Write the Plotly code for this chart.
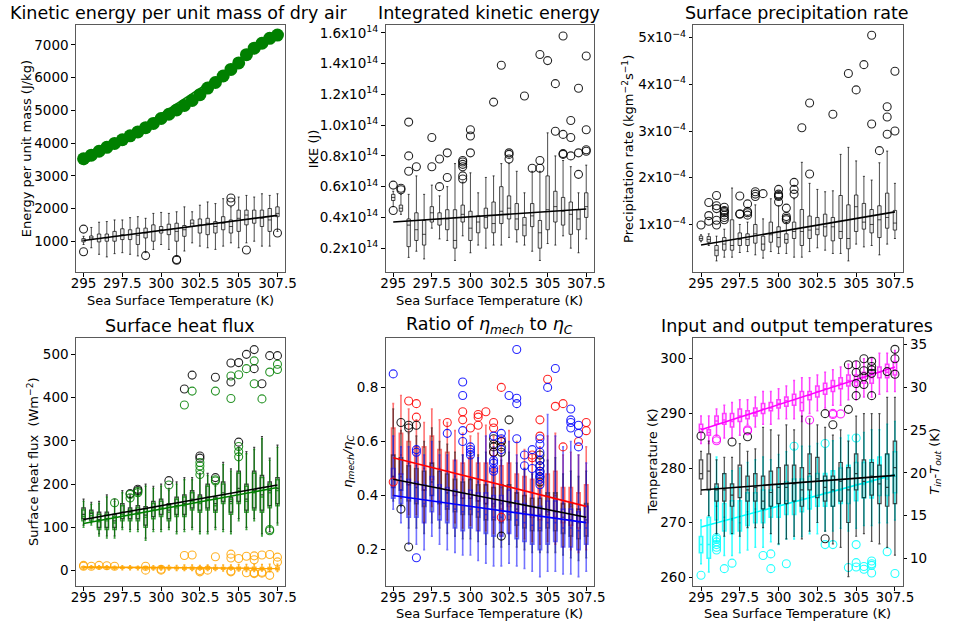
import plotly.graph_objects as go

W, H = 954, 627
FONT = "DejaVu Sans"

# ---------------- data ----------------
sst = [295.0, 295.5, 296.0, 296.5, 297.0, 297.5, 298.0, 298.5, 299.0, 299.5,
       300.0, 300.5, 301.0, 301.5, 302.0, 302.5, 303.0, 303.5, 304.0, 304.5,
       305.0, 305.5, 306.0, 306.5, 307.0, 307.5]
x_ticks = [295, 297.5, 300, 302.5, 305, 307.5]
x_ticktext = ["295", "297.5", "300", "302.5", "305", "307.5"]

# Panel 1: kinetic energy per unit mass (J/kg); boxes as (lo, q1, med, q3, hi)
ke_theory = [3520, 3630, 3750, 3870, 3990, 4100, 4220, 4340, 4470, 4600, 4750, 4880, 5010,
             5150, 5300, 5480, 5680, 5850, 6050, 6250, 6450, 6700, 6900, 7050, 7200, 7300]
ke_theory_fit = [3330, 7230]
ke_box = [(900, 980, 1030, 1080, 1150), (800, 1050, 1100, 1160, 1420), (600, 980, 1080, 1220, 1580),
          (520, 1000, 1100, 1220, 1600), (620, 1000, 1150, 1300, 1650), (650, 1050, 1200, 1380, 1650),
          (600, 1050, 1200, 1350, 1720), (550, 900, 1180, 1400, 1750), (650, 1100, 1250, 1400, 1700),
          (750, 1000, 1300, 1500, 1850), (900, 1250, 1350, 1450, 1880), (750, 1200, 1350, 1520, 1850),
          (550, 1000, 1300, 1550, 1900), (700, 1150, 1350, 1480, 2050), (950, 1450, 1550, 1650, 1900),
          (850, 1250, 1500, 1680, 2100), (800, 1200, 1550, 1700, 2200), (750, 1250, 1450, 1600, 2150),
          (850, 1350, 1550, 1750, 2300), (950, 1250, 1450, 1650, 2050), (800, 1300, 1700, 1950, 2350),
          (950, 1500, 1800, 1950, 2400), (1000, 1550, 1700, 1950, 2350), (850, 1450, 1700, 1950, 2450),
          (850, 1300, 1650, 2000, 2400), (1300, 1750, 1850, 2050, 2450)]
ke_out = [(295, 1370), (295, 680), (299, 560), (301, 420), (301, 440), (304.5, 2200), (304.5, 2320),
          (305.5, 730), (307.5, 1250)]
ke_fit = [1020, 1790]

# Panel 2: integrated kinetic energy (units of 1e14 J)
ike_box = [(0.47, 0.51, 0.53, 0.55, 0.57), (0.42, 0.44, 0.46, 0.48, 0.55), (0.14, 0.21, 0.35, 0.39, 0.55),
           (0.18, 0.25, 0.32, 0.43, 0.67), (0.13, 0.22, 0.29, 0.38, 0.55), (0.33, 0.37, 0.43, 0.47, 0.61),
           (0.26, 0.35, 0.39, 0.43, 0.54), (0.25, 0.32, 0.39, 0.45, 0.60), (0.12, 0.20, 0.25, 0.45, 0.75),
           (0.28, 0.37, 0.42, 0.48, 0.63), (0.17, 0.25, 0.33, 0.44, 0.69), (0.22, 0.30, 0.37, 0.41, 0.56),
           (0.20, 0.33, 0.40, 0.46, 0.66), (0.22, 0.30, 0.36, 0.50, 0.67), (0.22, 0.36, 0.44, 0.60, 0.75),
           (0.27, 0.39, 0.46, 0.54, 0.75), (0.24, 0.32, 0.39, 0.49, 0.70), (0.22, 0.28, 0.35, 0.40, 0.56),
           (0.18, 0.34, 0.41, 0.49, 0.70), (0.12, 0.20, 0.30, 0.38, 0.70), (0.23, 0.32, 0.45, 0.67, 0.95),
           (0.22, 0.37, 0.47, 0.57, 0.80), (0.28, 0.35, 0.44, 0.53, 0.77), (0.20, 0.29, 0.42, 0.50, 0.73),
           (0.17, 0.32, 0.39, 0.45, 0.56), (0.26, 0.40, 0.47, 0.56, 0.74)]
ike_out = [(295, 0.61), (295, 0.445), (295.5, 0.59), (295.5, 0.58), (296, 0.70), (296, 0.80), (296, 1.02),
           (296.5, 0.73), (297.5, 0.73), (297.5, 0.92), (298, 0.60), (298, 0.78), (298.5, 0.66), (298.5, 0.82),
           (299.5, 0.65), (299.5, 0.67), (299.5, 0.73), (299.5, 0.745), (299.5, 0.76), (299.5, 0.77),
           (300, 0.82), (300, 0.93), (300, 0.97), (301.5, 1.15), (302, 1.39), (302.5, 0.78), (302.5, 0.81),
           (302.5, 0.82), (303.5, 1.19), (304, 0.72), (304.5, 0.72), (304.5, 0.77), (304.5, 1.46),
           (305, 1.42), (305.5, 0.96), (305.5, 1.27), (306, 0.81), (306, 0.815), (306, 0.94), (306, 1.58),
           (306.5, 0.80), (306.5, 0.92), (306.5, 1.03), (307, 0.68), (307, 0.82), (307, 1.24),
           (307.5, 0.83), (307.5, 0.84), (307.5, 0.97), (307.5, 1.45)]
ike_fit = [0.37, 0.455]
ike_ticks = [0.2, 0.4, 0.6, 0.8, 1.0, 1.2, 1.4, 1.6]
ike_ticktext = ["0.2x10<sup>14</sup>", "0.4x10<sup>14</sup>", "0.6x10<sup>14</sup>", "0.8x10<sup>14</sup>",
                "1.0x10<sup>14</sup>", "1.2x10<sup>14</sup>", "1.4x10<sup>14</sup>", "1.6x10<sup>14</sup>"]

# Panel 3: surface precipitation rate (units of 1e-4 kg m-2 s-1)
pr_box = [(0.63, 0.66, 0.70, 0.75, 0.78), (0.55, 0.62, 0.68, 0.74, 0.80), (0.22, 0.33, 0.45, 0.55, 0.75),
          (0.30, 0.45, 0.58, 0.72, 0.90), (0.30, 0.45, 0.55, 1.10, 1.78), (0.40, 0.55, 0.68, 0.82, 1.00),
          (0.42, 0.55, 0.68, 0.80, 1.05), (0.35, 0.60, 0.80, 1.00, 1.42), (0.28, 0.45, 0.58, 0.75, 1.12),
          (0.42, 0.62, 0.78, 1.05, 1.55), (0.38, 0.52, 0.72, 0.95, 1.40), (0.38, 0.60, 0.68, 0.80, 1.05),
          (0.30, 0.70, 0.85, 1.05, 1.55), (0.30, 0.55, 0.85, 1.32, 2.33), (0.42, 0.70, 0.88, 1.18, 1.88),
          (0.50, 0.78, 0.90, 1.15, 1.75), (0.45, 0.75, 0.95, 1.22, 1.70), (0.38, 0.65, 0.95, 1.15, 1.72),
          (0.38, 0.70, 0.85, 1.62, 2.50), (0.22, 0.48, 0.70, 1.42, 2.65), (0.58, 0.85, 1.38, 1.63, 2.36),
          (0.52, 0.90, 1.05, 1.45, 2.03), (0.55, 0.82, 1.00, 1.32, 1.95), (0.35, 0.72, 1.10, 1.40, 2.32),
          (0.58, 0.92, 1.15, 1.67, 2.57), (0.70, 0.88, 1.03, 1.30, 1.88)]
pr_out = [(295, 0.99), (295.5, 1.07), (295.5, 1.19), (295.5, 1.47), (296, 0.99), (296, 1.09), (296, 1.34),
          (296, 1.40), (296, 1.62), (296.5, 1.10), (296.5, 1.15), (296.5, 1.20), (296.5, 1.25), (296.5, 1.28),
          (296.5, 1.30), (296.5, 1.37), (297.5, 1.22), (297.5, 1.23), (297.5, 1.61), (298, 1.20), (298, 1.25),
          (298, 1.28), (298, 1.44), (298.5, 1.60), (298.5, 1.65), (298.5, 1.70), (299, 1.66), (300, 1.48),
          (300, 1.60), (300, 1.62), (300, 1.65), (300, 1.75), (300.5, 1.10), (300.5, 1.13), (300.5, 1.17),
          (300.5, 1.35), (301, 1.65), (301, 1.75), (301, 1.90), (301.5, 3.07), (302, 2.08), (302, 3.60),
          (303.5, 3.36), (304.5, 4.23), (305, 3.88), (305.5, 4.42), (306, 3.15), (306, 5.05), (306.5, 2.58),
          (307, 2.93), (307, 3.30), (307, 3.52), (307.5, 3.00), (307.5, 4.28)]
pr_fit = [0.56, 1.27]
pr_ticks = [1, 2, 3, 4, 5]
pr_ticktext = ["1x10<sup>\u22124</sup>", "2x10<sup>\u22124</sup>", "3x10<sup>\u22124</sup>",
               "4x10<sup>\u22124</sup>", "5x10<sup>\u22124</sup>"]

# Panel 4: surface heat flux (W m-2): total (black), latent (green), sensible (orange)
shf_total_box = [(105, 120, 130, 145, 165), (110, 120, 132, 140, 158), (85, 100, 118, 135, 160),
                 (80, 100, 120, 135, 175), (80, 100, 115, 130, 165), (100, 120, 135, 155, 185),
                 (95, 120, 135, 145, 175), (95, 120, 135, 150, 190), (75, 105, 128, 148, 200),
                 (95, 125, 145, 160, 195), (95, 130, 150, 165, 200), (100, 120, 140, 155, 190),
                 (90, 130, 150, 170, 205), (95, 130, 155, 175, 215), (100, 145, 165, 185, 215),
                 (90, 140, 160, 175, 225), (90, 145, 170, 200, 225), (100, 140, 155, 170, 200),
                 (95, 160, 180, 205, 250), (90, 135, 160, 170, 235), (120, 160, 190, 230, 285),
                 (100, 140, 165, 200, 275), (120, 145, 185, 230, 285), (85, 140, 175, 220, 310),
                 (90, 150, 185, 205, 260), (110, 155, 190, 215, 290)]
shf_latent_box = [(100, 115, 125, 140, 160), (105, 115, 127, 135, 153), (80, 95, 113, 130, 155),
                  (75, 95, 115, 130, 170), (75, 95, 110, 125, 160), (95, 115, 130, 150, 180),
                  (90, 115, 130, 140, 170), (90, 115, 130, 145, 185), (70, 100, 123, 143, 195),
                  (90, 120, 140, 155, 190), (90, 125, 145, 160, 195), (95, 115, 135, 150, 185),
                  (85, 125, 145, 165, 200), (90, 125, 150, 170, 210), (95, 140, 160, 180, 210),
                  (85, 135, 155, 170, 220), (85, 140, 165, 195, 220), (95, 135, 150, 165, 195),
                  (90, 155, 175, 200, 245), (85, 130, 155, 165, 230), (115, 155, 185, 225, 280),
                  (95, 135, 160, 195, 270), (115, 140, 180, 225, 280), (80, 135, 170, 215, 305),
                  (100, 145, 180, 200, 255), (105, 150, 185, 210, 285)]
shf_sensible_box = [(5, 7, 8, 9, 10), (4, 6, 8, 9, 11), (4, 6, 7, 9, 11), (3, 6, 7, 9, 11), (3, 5, 7, 8, 10),
                    (2, 5, 7, 8, 11), (2, 5, 7, 8, 11), (2, 5, 6, 8, 10), (2, 5, 6, 8, 9), (1, 4, 6, 8, 11),
                    (1, 4, 6, 8, 11), (1, 4, 6, 8, 12), (0, 4, 6, 8, 12), (0, 3, 6, 8, 13), (0, 3, 5, 8, 13),
                    (1, 3, 5, 7, 12), (0, 3, 5, 7, 13), (0, 3, 5, 7, 13), (-1, 3, 5, 7, 13), (1, 3, 5, 8, 13),
                    (-1, 2, 5, 8, 14), (-2, 2, 5, 8, 14), (-2, 2, 4, 8, 14), (-1, 2, 4, 7, 14),
                    (-3, 2, 4, 7, 15), (-2, 2, 4, 8, 15)]
shf_total_out = [(298, 178), (298.5, 185), (298.5, 188), (300.5, 208), (301.5, 420), (302, 452), (302.5, 265),
                 (302.5, 260), (303.5, 215), (303.5, 447), (304.5, 480), (304.5, 436), (305, 297), (305, 481),
                 (305.5, 500), (306, 511), (306, 467), (306.5, 432), (307, 497), (307.5, 497)]
shf_latent_out = [(297, 157), (298, 168), (298, 176), (298.5, 180), (298.5, 183), (300.5, 198), (301.5, 383),
                  (302, 415), (302.5, 250), (302.5, 242), (302.5, 232), (302.5, 222), (303.5, 207),
                  (303.5, 210), (303.5, 415), (304.5, 450), (304.5, 398), (305, 287), (305, 275), (305, 263),
                  (305, 453), (305.5, 467), (306, 485), (306, 432), (306.5, 397), (307, 459), (307, 95),
                  (307, 92), (307.5, 477), (307.5, 465)]
shf_sensible_out = [(295, 12), (295, 10), (295.5, 10), (296, 12), (296.5, 11), (297, 10), (299, 10), (299, 1),
                    (300, 3), (300, 1), (301.5, 35), (302, 36), (302.5, 0), (302.5, -3), (303, 1), (303.5, 32),
                    (304.5, 38), (304.5, 29), (304.5, -1), (304.5, -3), (305, 28), (305.5, 33), (305.5, -5),
                    (306, 34), (306, 25), (306, -5), (306, -7), (306.5, 36), (306.5, -4), (306.5, -6),
                    (307, 37), (307, -11), (307.5, 31), (307.5, 20)]
shf_total_fit = [118, 198]
shf_latent_fit = [109, 192]
shf_sensible_fit = [8, 5]

# Panel 5: ratio eta_mech / eta_C for three estimates (red, black, blue)
eta_red_box = [(0.40, 0.47, 0.55, 0.65, 0.74), (0.39, 0.48, 0.55, 0.63, 0.77), (0.33, 0.44, 0.52, 0.60, 0.72),
               (0.33, 0.44, 0.51, 0.58, 0.68), (0.30, 0.42, 0.50, 0.58, 0.67), (0.36, 0.46, 0.52, 0.62, 0.72),
               (0.33, 0.43, 0.50, 0.57, 0.68), (0.31, 0.42, 0.49, 0.56, 0.67), (0.30, 0.40, 0.47, 0.53, 0.64),
               (0.28, 0.39, 0.46, 0.52, 0.63), (0.29, 0.39, 0.46, 0.54, 0.62), (0.27, 0.38, 0.45, 0.52, 0.63),
               (0.27, 0.37, 0.44, 0.52, 0.66), (0.26, 0.36, 0.43, 0.50, 0.62), (0.25, 0.35, 0.43, 0.51, 0.62),
               (0.26, 0.36, 0.44, 0.52, 0.64), (0.25, 0.34, 0.41, 0.48, 0.60), (0.24, 0.33, 0.40, 0.47, 0.57),
               (0.23, 0.32, 0.39, 0.46, 0.55), (0.22, 0.31, 0.39, 0.46, 0.58), (0.23, 0.33, 0.40, 0.48, 0.62),
               (0.22, 0.32, 0.40, 0.49, 0.63), (0.21, 0.30, 0.37, 0.43, 0.55), (0.20, 0.29, 0.36, 0.43, 0.56),
               (0.19, 0.28, 0.35, 0.41, 0.55), (0.20, 0.30, 0.36, 0.44, 0.58)]
eta_black_box = [(0.38, 0.43, 0.47, 0.55, 0.72), (0.36, 0.42, 0.47, 0.54, 0.64), (0.28, 0.38, 0.44, 0.51, 0.63),
                 (0.28, 0.37, 0.43, 0.50, 0.62), (0.26, 0.36, 0.42, 0.49, 0.60), (0.30, 0.40, 0.45, 0.52, 0.65),
                 (0.28, 0.37, 0.43, 0.49, 0.60), (0.26, 0.35, 0.41, 0.48, 0.59), (0.25, 0.34, 0.40, 0.46, 0.56),
                 (0.24, 0.33, 0.39, 0.45, 0.55), (0.24, 0.33, 0.39, 0.46, 0.56), (0.23, 0.32, 0.38, 0.44, 0.55),
                 (0.22, 0.31, 0.37, 0.44, 0.56), (0.21, 0.31, 0.37, 0.43, 0.54), (0.21, 0.30, 0.37, 0.44, 0.53),
                 (0.22, 0.31, 0.37, 0.44, 0.56), (0.21, 0.29, 0.35, 0.41, 0.52), (0.20, 0.28, 0.34, 0.40, 0.50),
                 (0.19, 0.27, 0.33, 0.39, 0.48), (0.19, 0.27, 0.33, 0.39, 0.44), (0.19, 0.28, 0.34, 0.41, 0.53),
                 (0.19, 0.27, 0.34, 0.41, 0.54), (0.18, 0.26, 0.32, 0.37, 0.48), (0.17, 0.25, 0.31, 0.37, 0.49),
                 (0.16, 0.24, 0.30, 0.35, 0.47), (0.17, 0.25, 0.31, 0.37, 0.49)]
eta_blue_box = [(0.35, 0.39, 0.43, 0.50, 0.62), (0.30, 0.37, 0.42, 0.48, 0.58), (0.22, 0.32, 0.39, 0.46, 0.58),
                (0.22, 0.32, 0.38, 0.45, 0.55), (0.20, 0.30, 0.37, 0.44, 0.55), (0.25, 0.34, 0.40, 0.47, 0.60),
                (0.22, 0.31, 0.38, 0.44, 0.55), (0.20, 0.30, 0.36, 0.43, 0.55), (0.19, 0.28, 0.35, 0.42, 0.53),
                (0.18, 0.27, 0.34, 0.41, 0.55), (0.18, 0.28, 0.35, 0.42, 0.55), (0.16, 0.27, 0.34, 0.41, 0.54),
                (0.15, 0.26, 0.33, 0.41, 0.62), (0.14, 0.25, 0.32, 0.40, 0.58), (0.14, 0.25, 0.32, 0.40, 0.55),
                (0.15, 0.26, 0.33, 0.42, 0.60), (0.14, 0.24, 0.31, 0.38, 0.55), (0.13, 0.23, 0.30, 0.37, 0.50),
                (0.12, 0.22, 0.29, 0.36, 0.48), (0.10, 0.20, 0.28, 0.36, 0.42), (0.12, 0.22, 0.30, 0.38, 0.70),
                (0.12, 0.23, 0.30, 0.38, 0.62), (0.11, 0.21, 0.28, 0.35, 0.58), (0.11, 0.21, 0.28, 0.35, 0.60),
                (0.10, 0.20, 0.27, 0.34, 0.55), (0.12, 0.22, 0.28, 0.36, 0.52)]
eta_red_out = [(295, 0.45), (296, 0.75), (296.5, 0.74), (296.5, 0.69), (298.5, 0.67), (299.5, 0.71), (299.5, 0.68),
               (300, 0.65), (300.5, 0.70), (300.5, 0.69), (300.5, 0.66), (301, 0.71), (301.5, 0.67),
               (301.5, 0.65), (301.5, 0.56), (302, 0.80), (302, 0.60), (302, 0.32), (304, 0.55), (304, 0.54),
               (304.5, 0.68), (304.5, 0.62), (305, 0.83), (305.5, 0.73), (306, 0.74), (306, 0.58), (307, 0.60),
               (307.5, 0.67), (307.5, 0.64)]
eta_black_out = [(295.5, 0.67), (295.5, 0.35), (296, 0.66), (296, 0.65), (296, 0.21), (296.5, 0.66),
                 (301.5, 0.61), (301.5, 0.59), (301.5, 0.58), (301.5, 0.56), (302, 0.60), (302, 0.58),
                 (302, 0.56), (302, 0.25), (302.5, 0.68), (304.5, 0.55), (304.5, 0.53), (304.5, 0.51),
                 (304.5, 0.49), (304.5, 0.47), (304.5, 0.45)]
eta_blue_out = [(295, 0.85), (296.5, 0.57), (296.5, 0.56), (296.5, 0.17), (298.5, 0.63), (299.5, 0.82),
                (299.5, 0.77), (299.5, 0.64), (299.5, 0.60), (300, 0.58), (300, 0.57), (300, 0.56), (300, 0.55),
                (301.5, 0.62), (301.5, 0.53), (301.5, 0.52), (301.5, 0.50), (301.5, 0.49), (302, 0.63),
                (302, 0.61), (302, 0.57), (302.5, 0.77), (303, 0.94), (303, 0.76), (303, 0.74), (303, 0.61),
                (303.5, 0.55), (303.5, 0.51), (304, 0.57), (304, 0.50), (304.5, 0.61), (304.5, 0.59),
                (304.5, 0.56), (304.5, 0.53), (304.5, 0.51), (304.5, 0.49), (304.5, 0.48), (304.5, 0.47),
                (304.5, 0.46), (304.5, 0.44), (305, 0.80), (305.5, 0.87), (306.5, 0.72), (306.5, 0.68),
                (306.5, 0.67), (306.5, 0.65), (307, 0.66), (307, 0.63), (307, 0.58)]
eta_red_fit = [0.54, 0.36]
eta_black_fit = [0.46, 0.32]
eta_blue_fit = [0.40, 0.30]

# Panel 6: input (magenta) / output (cyan) temperatures (K) and their difference (black, right axis)
tin_box = [(284.5, 286.5, 287.2, 288.0, 289.5), (284.5, 286.0, 286.5, 287.0, 289.5), (286.0, 288.0, 288.6, 289.5, 290.8),
           (285.5, 288.0, 288.8, 290.0, 291.5), (285.5, 287.5, 288.5, 290.0, 292.0), (286.0, 288.5, 289.5, 290.8, 292.5),
           (288.0, 289.0, 289.8, 290.5, 292.5), (287.5, 289.5, 290.0, 291.0, 293.0), (288.0, 290.0, 290.8, 291.8, 294.0),
           (288.0, 290.5, 291.0, 292.0, 294.0), (289.0, 291.0, 291.8, 292.5, 294.5), (289.0, 291.3, 292.3, 293.0, 295.0),
           (289.0, 291.5, 292.5, 293.5, 296.0), (288.5, 290.5, 292.0, 294.0, 296.5), (290.0, 292.5, 293.3, 294.0, 296.5),
           (290.5, 293.0, 294.0, 295.0, 297.0), (291.0, 293.5, 294.5, 295.5, 297.5), (291.5, 294.0, 295.0, 296.0, 298.0),
           (291.5, 294.5, 295.5, 296.5, 298.5), (292.5, 295.0, 296.0, 297.0, 299.0), (292.5, 295.0, 295.8, 297.0, 299.5),
           (293.0, 295.5, 296.5, 297.5, 300.0), (293.0, 295.5, 296.5, 297.5, 300.0), (293.5, 296.5, 297.5, 298.5, 301.0),
           (294.0, 296.5, 297.5, 299.0, 301.0), (294.0, 297.0, 298.0, 299.5, 301.5)]
tout_box = [(262.5, 264.5, 266.0, 267.5, 270.5), (261.0, 263.5, 266.0, 271.0, 276.0), (266.5, 270.5, 273.0, 276.5, 282.0),
            (264.0, 268.5, 271.0, 273.5, 279.0), (264.0, 268.0, 270.5, 274.0, 279.5), (264.5, 268.5, 270.0, 274.0, 280.0),
            (265.0, 269.5, 272.0, 275.5, 281.0), (265.5, 270.0, 272.5, 275.5, 281.5), (265.5, 270.0, 272.5, 276.0, 282.0),
            (266.5, 271.0, 273.0, 276.0, 281.5), (266.0, 271.0, 273.5, 277.0, 282.5), (267.0, 271.5, 274.0, 277.5, 283.0),
            (267.0, 271.5, 274.0, 278.0, 283.5), (267.5, 272.0, 274.5, 278.0, 284.0), (268.0, 272.5, 275.0, 278.5, 284.0),
            (268.0, 273.0, 275.0, 279.0, 284.5), (268.5, 273.0, 275.5, 279.0, 283.5), (268.5, 273.0, 276.0, 279.5, 285.0),
            (269.0, 273.5, 276.0, 280.0, 285.5), (268.5, 273.5, 276.5, 280.5, 286.0), (269.0, 274.0, 277.0, 281.0, 286.0),
            (269.5, 274.5, 277.0, 281.0, 286.5), (269.5, 274.5, 277.5, 281.5, 287.0), (270.0, 275.0, 278.0, 282.0, 287.0),
            (270.0, 275.0, 278.0, 282.5, 288.0), (270.5, 275.5, 278.5, 283.0, 288.5)]
tdiff_box = [(17.5, 19.3, 19.9, 21.5, 22.5), (15.0, 18.0, 20.2, 22.2, 23.7), (12.9, 16.7, 18.0, 18.7, 21.5),
             (12.6, 16.7, 18.0, 19.9, 21.8), (12.9, 16.1, 17.4, 18.7, 21.8), (12.6, 17.1, 18.3, 20.9, 23.4),
             (13.6, 16.7, 18.0, 19.6, 22.5), (13.6, 16.7, 18.3, 19.9, 22.8), (13.6, 15.8, 16.7, 19.6, 25.3),
             (12.9, 16.1, 17.7, 20.2, 25.0), (11.7, 16.4, 18.3, 20.6, 24.4), (12.3, 16.4, 18.3, 20.9, 25.6),
             (12.6, 16.7, 18.7, 20.9, 25.0), (12.3, 16.1, 18.0, 20.6, 26.6), (13.2, 18.0, 19.9, 22.2, 26.3),
             (14.2, 17.1, 19.3, 21.8, 25.6), (13.2, 16.7, 18.3, 19.6, 25.3), (11.7, 16.1, 18.0, 19.6, 24.4),
             (11.3, 16.7, 19.0, 21.2, 25.0), (7.9, 14.2, 18.0, 20.6, 23.7), (12.6, 18.0, 19.9, 22.2, 26.6),
             (12.9, 17.1, 19.0, 21.5, 26.9), (12.0, 17.4, 19.6, 21.2, 26.9), (11.7, 16.4, 18.7, 20.9, 26.9),
             (11.3, 16.1, 18.3, 22.2, 28.8), (10.4, 16.4, 20.6, 23.7, 28.8)]
tin_out = [(296, 285.0), (296, 285.3), (298, 286.8), (298, 287.0), (302, 288.8), (303.5, 289.8), (303.5, 290.0),
           (304, 289.9)]
tout_out = [(295, 260.4), (296, 265.0), (296, 265.5), (296, 266.0), (296, 266.5), (296, 267.0), (296, 267.3),
            (296.5, 261.6), (297, 262.6), (299, 264.0), (299.5, 264.3), (299.5, 261.6), (300.5, 262.5),
            (301, 284.0), (303, 266.0), (303, 284.5), (303.5, 266.0), (304.5, 261.8), (305, 285.5), (305, 266.0),
            (305, 262.7), (305, 261.9), (305.5, 262.0), (305.5, 261.5), (306, 263.0), (306, 262.5), (306, 262.2),
            (306, 260.8), (307, 264.7), (307.5, 260.7)]
tdiff_out = [(295, 24.3), (297, 23.6), (298, 24.2), (303, 26.9), (303, 12.3), (303.5, 25.6), (304.5, 27.4),
             (304.5, 32.6), (305, 29.0), (305, 30.4), (305, 31.7), (305, 32.6), (305.5, 30.3), (305.5, 31.2),
             (305.5, 31.9), (305.5, 33.3), (306, 29.0), (306, 31.6), (306, 32.0), (306, 32.4), (306, 33.0),
             (307, 31.8), (307.5, 31.5), (307.5, 33.3), (307.5, 34.4)]
tin_fit = [287.0, 298.5]
tout_fit = [269.2, 278.8]
tdiff_fit = [18.0, 19.7]

# ---------------- helpers ----------------
def cols(rows):
    return [list(c) for c in zip(*rows)]


def rgba(rgb, a):
    return "rgba(%d,%d,%d,%.2f)" % (rgb[0], rgb[1], rgb[2], a)


def box(rows, xa, ya, rgb, lw=1.0, line_a=0.8, fill_a=0.12):
    lo, q1, med, q3, hi = cols(rows)
    return go.Box(x=sst, lowerfence=lo, q1=q1, median=med, q3=q3, upperfence=hi,
                  boxpoints=False, width=0.22, whiskerwidth=0.6,
                  line=dict(color=rgba(rgb, line_a), width=lw), fillcolor=rgba(rgb, fill_a),
                  xaxis=xa, yaxis=ya, showlegend=False, hoverinfo="skip")


def outliers(pts, xa, ya, rgb, a=0.85):
    xs, ys = cols(pts)
    return go.Scatter(x=xs, y=ys, mode="markers", xaxis=xa, yaxis=ya, showlegend=False, hoverinfo="skip",
                      marker=dict(symbol="circle-open", size=8, color=rgba(rgb, a), line=dict(width=1.1)))


def trend(vals, xa, ya, rgb, lw=1.6):
    return go.Scatter(x=[sst[0], sst[-1]], y=vals, mode="lines", xaxis=xa, yaxis=ya, showlegend=False,
                      hoverinfo="skip", line=dict(color=rgba(rgb, 1), width=lw))


BLACK = (0, 0, 0)
GREEN = (0, 128, 0)
ORANGE = (255, 165, 0)
RED = (255, 0, 0)
BLUE = (0, 0, 255)
MAGENTA = (255, 0, 255)
CYAN = (0, 255, 255)

fig = go.Figure()

# Panel 1
fig.add_trace(trend(ke_theory_fit, "x", "y", GREEN, 1.5))
fig.add_trace(go.Scatter(x=sst, y=ke_theory, mode="markers", xaxis="x", yaxis="y", showlegend=False,
                         hoverinfo="skip", marker=dict(size=13, color="green")))
fig.add_trace(box(ke_box, "x", "y", BLACK, 1.0, 0.7, 0.08))
fig.add_trace(outliers(ke_out, "x", "y", BLACK))
fig.add_trace(trend(ke_fit, "x", "y", BLACK))

# Panel 2
fig.add_trace(box(ike_box, "x2", "y2", BLACK, 1.0, 0.7, 0.08))
fig.add_trace(outliers(ike_out, "x2", "y2", BLACK))
fig.add_trace(trend(ike_fit, "x2", "y2", BLACK))

# Panel 3
fig.add_trace(box(pr_box, "x3", "y3", BLACK, 1.0, 0.7, 0.08))
fig.add_trace(outliers(pr_out, "x3", "y3", BLACK))
fig.add_trace(trend(pr_fit, "x3", "y3", BLACK))

# Panel 4
fig.add_trace(box(shf_total_box, "x4", "y4", BLACK, 1.2, 0.75, 0.10))
fig.add_trace(box(shf_latent_box, "x4", "y4", GREEN, 1.4, 0.75, 0.12))
fig.add_trace(box(shf_sensible_box, "x4", "y4", ORANGE, 1.4, 0.85, 0.2))
fig.add_trace(outliers(shf_total_out, "x4", "y4", BLACK))
fig.add_trace(outliers(shf_latent_out, "x4", "y4", GREEN))
fig.add_trace(outliers(shf_sensible_out, "x4", "y4", ORANGE))
fig.add_trace(trend(shf_total_fit, "x4", "y4", BLACK))
fig.add_trace(trend(shf_latent_fit, "x4", "y4", GREEN))
fig.add_trace(trend(shf_sensible_fit, "x4", "y4", ORANGE))

# Panel 5
fig.add_trace(box(eta_red_box, "x5", "y5", RED, 1.6, 0.55, 0.18))
fig.add_trace(box(eta_black_box, "x5", "y5", BLACK, 1.6, 0.5, 0.2))
fig.add_trace(box(eta_blue_box, "x5", "y5", BLUE, 1.6, 0.55, 0.18))
fig.add_trace(outliers(eta_red_out, "x5", "y5", RED))
fig.add_trace(outliers(eta_black_out, "x5", "y5", BLACK))
fig.add_trace(outliers(eta_blue_out, "x5", "y5", BLUE))
fig.add_trace(trend(eta_red_fit, "x5", "y5", RED))
fig.add_trace(trend(eta_black_fit, "x5", "y5", BLACK))
fig.add_trace(trend(eta_blue_fit, "x5", "y5", BLUE))

# Panel 6
fig.add_trace(box(tout_box, "x6", "y6", CYAN, 1.5, 0.8, 0.3))
fig.add_trace(box(tin_box, "x6", "y6", MAGENTA, 1.5, 0.75, 0.15))
fig.add_trace(outliers(tout_out, "x6", "y6", CYAN))
fig.add_trace(outliers(tin_out, "x6", "y6", MAGENTA))
fig.add_trace(trend(tout_fit, "x6", "y6", CYAN))
fig.add_trace(trend(tin_fit, "x6", "y6", MAGENTA))
fig.add_trace(box(tdiff_box, "x6", "y7", BLACK, 1.2, 0.7, 0.12))
fig.add_trace(outliers(tdiff_out, "x6", "y7", BLACK))
fig.add_trace(trend(tdiff_fit, "x6", "y7", BLACK))

# ---------------- layout ----------------
def dom_x(a, b):
    return [a / W, b / W]


def dom_y(top, bottom):
    return [1 - bottom / H, 1 - top / H]


col_x = [(72, 285), (387, 599), (700, 913)]
row_y = [(23, 271), (337, 586)]

axis_common = dict(showline=True, mirror=True, linecolor="rgb(90,90,90)", linewidth=1, ticks="outside",
                   ticklen=3.5, tickwidth=1, tickcolor="black", showgrid=False, zeroline=False,
                   tickfont=dict(family=FONT, size=13.5, color="black"))

layout = dict(width=W, height=H, margin=dict(l=0, r=0, t=0, b=0), plot_bgcolor="white",
              paper_bgcolor="white", boxmode="overlay", showlegend=False,
              font=dict(family=FONT, size=13, color="black"))

yranges = [[55, 7610], [0.044, 1.652], [-0.02, 5.27], [-36, 538], [0.065, 0.983], [258.4, 303.8]]
yticks = [dict(tickvals=[1000, 2000, 3000, 4000, 5000, 6000, 7000]),
          dict(tickvals=ike_ticks, ticktext=ike_ticktext),
          dict(tickvals=pr_ticks, ticktext=pr_ticktext),
          dict(tickvals=[0, 100, 200, 300, 400, 500]),
          dict(tickvals=[0.2, 0.4, 0.6, 0.8]),
          dict(tickvals=[260, 270, 280, 290, 300])]

for i in range(6):
    r, c = divmod(i, 3)
    sfx = "" if i == 0 else str(i + 1)
    layout["xaxis" + sfx] = dict(axis_common, domain=dom_x(*col_x[c]), anchor="y" + sfx,
                                 range=[294.5, 308.0], tickvals=x_ticks, ticktext=x_ticktext,
                                 ticklabelstandoff=-5)
    layout["yaxis" + sfx] = dict(axis_common, domain=dom_y(*row_y[r]), anchor="x" + sfx,
                                 range=yranges[i], **yticks[i])

layout["yaxis7"] = dict(axis_common, overlaying="y6", anchor="x6", side="right", range=[6.78, 35.73],
                        tickvals=[10, 15, 20, 25, 30, 35], mirror=False)


def ann(text, xpx, ypx, size=13, angle=0):
    return dict(text=text, x=xpx / W, y=1 - ypx / H, xref="paper", yref="paper", showarrow=False,
                xanchor="center", yanchor="middle", textangle=angle,
                font=dict(family=FONT, size=size, color="black"))


annotations = [
    ann("Kinetic energy per unit mass of dry air", 177, 11, 17.5),
    ann("Integrated kinetic energy", 492, 11, 17.5),
    ann("Surface precipitation rate", 806, 11, 17.5),
    ann("Surface heat flux", 178, 325, 17.5),
    ann("Ratio of <i>\u03b7<sub>mech</sub></i> to <i>\u03b7<sub>C</sub></i>", 493, 325, 17.5),
    ann("Input and output temperatures", 806, 325, 17.5),
    ann("Sea Surface Temperature (K)", 178, 299),
    ann("Sea Surface Temperature (K)", 493, 299),
    ann("Sea Surface Temperature (K)", 493, 613),
    ann("Sea Surface Temperature (K)", 806, 613),
    ann("Energy per unit mass (J/kg)", 22, 147, 13, -90),
    ann("IKE (J)", 314, 147, 13, -90),
    ann("Precipitation rate (kgm<sup>\u22122</sup>s<sup>\u22121</sup>)", 633, 147, 13, -90),
    ann("Surface heat flux  (Wm<sup>\u22122</sup>)", 28, 461, 13, -90),
    ann("<i>\u03b7<sub>mech</sub>/\u03b7<sub>C</sub></i>", 349, 461, 13, -90),
    ann("Temperature (K)", 659, 461, 13, -90),
    ann("<i>T<sub>in</sub></i>-<i>T<sub>out</sub></i> (K)", 946, 461, 13, -90),
]
layout["annotations"] = annotations

fig.update_layout(**layout)
fig.write_html("out.html")
